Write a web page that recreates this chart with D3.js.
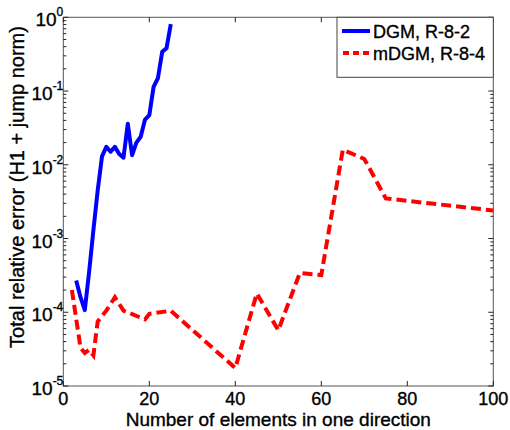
<!DOCTYPE html>
<html><head><meta charset="utf-8">
<script src="https://cdn.jsdelivr.net/npm/d3@7"></script>
<style>body{margin:0;background:#fff} svg{display:block} text{font-family:"Liberation Sans",Arial,Helvetica,sans-serif;fill:#000;stroke:#000;stroke-width:0.35px}</style>
</head><body><svg id="c" width="510" height="430"></svg>
<script>
const dgmN = [3,4,5,6,7,8,9,10,11,12,13,14,15,16,17,18,19,20,21,22,23,24,25];
const dgmErr = [2.7e-4,1.6e-4,1.07e-4,3.5e-4,1.3e-3,4.5e-3,1.3e-2,1.75e-2,1.5e-2,1.75e-2,1.4e-2,1.25e-2,3.6e-2,1.35e-2,2e-2,2.4e-2,4.1e-2,4.7e-2,0.114,0.149,0.34,0.38,0.81];
const mdgmN = [2,4,5,6,7,8,10,12,14,19,20,25,40,45,50,55,60,65,70,75,100];
const mdgmErr = [2e-4,3.3e-5,2.8e-5,3.1e-5,2.6e-5,7.5e-5,1.05e-4,1.6e-4,1.05e-4,8e-5,9.5e-5,1.05e-4,1.75e-5,1.8e-4,5.7e-5,3.4e-4,3.2e-4,1.6e-2,1.2e-2,3.5e-3,2.4e-3];
const xTicks = [0,20,40,60,80,100];
const yTickExps = [-5,-4,-3,-2,-1,0];
const seriesNames = ["DGM, R-8-2","mDGM, R-8-4"];
const xLabel = "Number of elements in one direction";
const yLabel = "Total relative error (H1 + jump norm)";

const L = 63.3, R = 493.3, T = 17.3, B = 386;
const svg = d3.select("#c");
const x = d3.scaleLinear().domain([0,100]).range([L,R]);
const y = d3.scaleLog().domain([1e-5,1]).range([B,T]);

const minor = [];
for (let e=-5;e<0;e++) for (let m=2;m<=9;m++) minor.push(m*Math.pow(10,e));
const g = svg.append("g");
g.append("rect").attr("x",L).attr("y",T).attr("width",R-L).attr("height",B-T)
 .attr("fill","none").attr("stroke","#555").attr("stroke-width",1);
const yt = g.append("g").attr("stroke","#222").attr("stroke-width",1);
minor.forEach(v=>{
  yt.append("line").attr("x1",L).attr("x2",L+3).attr("y1",y(v)).attr("y2",y(v));
  yt.append("line").attr("x1",R).attr("x2",R-3).attr("y1",y(v)).attr("y2",y(v));
});
yTickExps.forEach(e=>{
  const v=Math.pow(10,e);
  yt.append("line").attr("x1",L).attr("x2",L+5).attr("y1",y(v)).attr("y2",y(v));
  yt.append("line").attr("x1",R).attr("x2",R-5).attr("y1",y(v)).attr("y2",y(v));
});
xTicks.forEach(v=>{
  yt.append("line").attr("x1",x(v)).attr("x2",x(v)).attr("y1",B).attr("y2",B-5);
  yt.append("line").attr("x1",x(v)).attr("x2",x(v)).attr("y1",T).attr("y2",T+5);
});
svg.append("g").selectAll("text").data(xTicks).join("text")
  .attr("x",d=>x(d)).attr("y",B+19).attr("text-anchor","middle")
  .style("font-size","18px").text(d=>d);
const ytl = svg.append("g").selectAll("text").data(yTickExps).join("text")
  .attr("x",L).attr("y",d=>y(Math.pow(10,d))+9).attr("text-anchor","end")
  .style("font-size","19px");
ytl.append("tspan").text("10");
ytl.append("tspan").attr("dy",-10).style("font-size","12px").text(d=>d);

svg.append("text").attr("x",(L+R)/2).attr("y",425.5).attr("text-anchor","middle")
  .style("font-size","19px").text(xLabel);
svg.append("text").attr("transform","translate(24,187) rotate(-90)").attr("text-anchor","middle")
  .style("font-size","20px").text(yLabel);

const line = d3.line().x(d=>x(d[0])).y(d=>y(d[1]));
svg.append("path").datum(mdgmN.map((n,i)=>[n,mdgmErr[i]])).attr("d",line)
  .attr("fill","none").attr("stroke","#ff0000").attr("stroke-width",4).attr("stroke-dasharray","10,5");
svg.append("path").datum(dgmN.map((n,i)=>[n,dgmErr[i]])).attr("d",line)
  .attr("fill","none").attr("stroke","#0000ff").attr("stroke-width",4).attr("stroke-linejoin","round");

const lg = svg.append("g");
lg.append("rect").attr("x",337).attr("y",T).attr("width",R-337).attr("height",60)
  .attr("fill","#fff").attr("stroke","#444").attr("stroke-width",1);
lg.append("line").attr("x1",342).attr("x2",370).attr("y1",31).attr("y2",31)
  .attr("stroke","#0000ff").attr("stroke-width",4);
lg.append("line").attr("x1",343).attr("x2",370).attr("y1",53).attr("y2",53)
  .attr("stroke","#ff0000").attr("stroke-width",4).attr("stroke-dasharray","6,4");
lg.append("text").attr("x",373).attr("y",38).style("font-size","18px").text(seriesNames[0]);
lg.append("text").attr("x",373).attr("y",60).style("font-size","18px").text(seriesNames[1]);
</script></body></html>
